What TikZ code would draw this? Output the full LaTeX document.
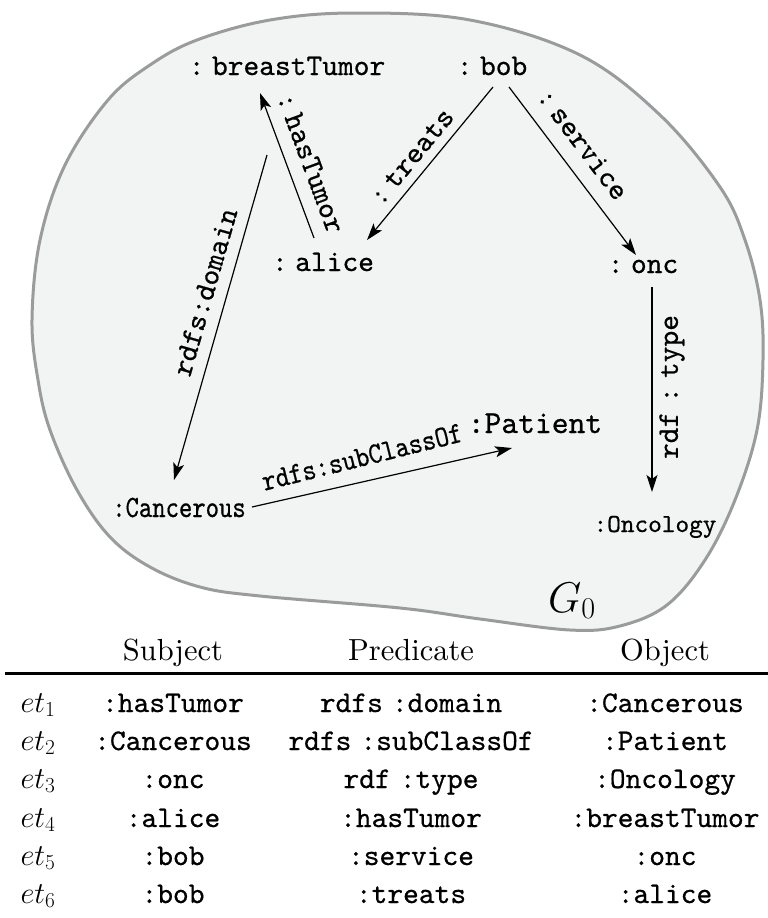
\RequirePackage{fix-cm}
\documentclass[tikz,border=0pt]{standalone}
\usepackage{graphicx}
\usetikzlibrary{arrows.meta}
\definecolor{blobfill}{HTML}{F2F3F3}
\definecolor{blobline}{HTML}{9A9B9D}
\newcommand{\myfs}[1]{\fontsize{#1}{#1}\selectfont}
\font\ttA="[lmmono10-regular]:embolden=0.6" at 30pt
\font\ttB="[lmmono10-regular]:embolden=0.6" at 31pt
\font\ttC="[lmmono10-regular]:embolden=0.6" at 26pt
\font\ttP="[lmmono10-regular]:embolden=0.6" at 32pt
\font\rmA="[lmroman10-regular]" at 30.5pt
\tikzset{
  nd/.style={inner sep=0pt, anchor=base, font=\ttA},
  lbl/.style={inner sep=0pt, font=\ttA},
  arr/.style={-{Stealth[length=17pt,width=11pt,inset=4pt]}, line width=1.2pt},
  hdr/.style={inner sep=0pt, anchor=base, font=\rmA},
  cell/.style={inner sep=0pt, anchor=base, font=\ttA},
  etc/.style={inner sep=0pt, anchor=base, font=\rmfamily\myfs{30.5}},
}
\begin{document}
\begin{tikzpicture}[x=1pt,y=1pt]
\useasboundingbox (0,0) rectangle (768,-918);
% blob
\draw[blobline, fill=blobfill, line width=3pt]
  plot[smooth cycle, tension=0.6] coordinates {
  (355,-13) (470,-20) (580,-55) (660,-115) (720,-187) (745,-240) (760,-300)
  (763,-360) (757,-430) (735,-500) (705,-560) (667,-605) (620,-626) (570,-630)
  (480,-619) (400,-608) (260,-596) (200,-587) (150,-567) (110,-537) (77,-490)
  (50,-430) (38,-380) (32,-320) (40,-240) (65,-165) (108,-100) (150,-65)
  (197,-40) (270,-20)};
% nodes
\node[nd] (bt) at (287,-75) {:\hspace{.25em}breastTumor};
\node[nd] (bob) at (492,-75) {:\hspace{.25em}bob};
\node[nd] (alice) at (323,-271) {:\hspace{.25em}alice};
\node[nd] (onc) at (643,-273) {:\hspace{.25em}onc};
\node[nd, font=\ttP] (pat) at (535,-433) {:Patient};
\node[nd, font=\ttB] (canc) at (179,-517) {\scalebox{0.82}[1]{:Cancerous}};
\node[nd, font=\ttC] (oncol) at (655,-532) {:Oncology};
\coordinate (dstart) at (267,-155);
% edges
\draw[arr] ([shift={(-9,33)}]alice.base) -- ([shift={(-27,-18)}]bt.base);
\draw[arr] ([shift={(1,-12)}]bob.base) -- ([shift={(44,31)}]alice.base);
\draw[arr] ([shift={(17,-12)}]bob.base) -- ([shift={(-7,18)}]onc.base);
\draw[arr] ([shift={(9,-14)}]onc.base) -- ([shift={(-3,40)}]oncol.base);
\draw[arr] (dstart) -- ([shift={(-5,37)}]canc.base);
\draw[arr] ([shift={(73,10)}]canc.base) -- ([shift={(-23,-15)}]pat.base);
% edge labels
\node[lbl, rotate=-69.6] (lhas) at (311,-163) {:\hspace{.2em}hasTumor};
\node[lbl, rotate=50.5] (ltreats) at (412,-157) {:\hspace{.2em}treats};
\node[lbl, rotate=-52.9] (lserv) at (583,-144) {:\hspace{.2em}service};
\node[lbl, rotate=90] (ltype) at (672,-387) {rdf\hspace{.3em}:\hspace{.3em}type};
\node[lbl, rotate=74] (ldom) at (205,-292) {rdfs:domain};
\node[lbl, rotate=14] (lsub) at (362,-457) {\scalebox{0.87}[1]{rdfs:subClassOf}};
\node[inner sep=0pt, anchor=base west, font=\myfs{43}] (g0) at (548,-612) {$G_0$};
% table
\node[hdr] (hs) at (173,-660) {Subject};
\node[hdr] (hp) at (411,-660) {Predicate};
\node[hdr] (ho) at (665,-660) {Object};
\draw[line width=3pt] (5,-673) -- (768,-673);
\node[etc] (e1) at (38,-712) {$et_1$};
\node[etc] (e2) at (38,-750) {$et_2$};
\node[etc] (e3) at (38,-788) {$et_3$};
\node[etc] (e4) at (38,-827) {$et_4$};
\node[etc] (e5) at (38,-865) {$et_5$};
\node[etc] (e6) at (38,-903) {$et_6$};
\node[cell] (s1) at (173,-712) {:hasTumor};
\node[cell] (s2) at (173,-750) {:Cancerous};
\node[cell] (s3) at (173,-788) {:onc};
\node[cell] (s4) at (173,-827) {:alice};
\node[cell] (s5) at (173,-865) {:bob};
\node[cell] (s6) at (173,-903) {:bob};
\node[cell] (p1) at (411,-712) {rdfs\hspace{.3em}:domain};
\node[cell] (p2) at (411,-750) {rdfs\hspace{.3em}:subClassOf};
\node[cell] (p3) at (411,-788) {rdf\hspace{.3em}:type};
\node[cell] (p4) at (411,-827) {:hasTumor};
\node[cell] (p5) at (411,-865) {:service};
\node[cell] (p6) at (411,-903) {:treats};
\node[cell] (o1) at (665,-712) {:Cancerous};
\node[cell] (o2) at (665,-750) {:Patient};
\node[cell] (o3) at (665,-788) {:Oncology};
\node[cell] (o4) at (665,-827) {:breastTumor};
\node[cell] (o5) at (665,-865) {:onc};
\node[cell] (o6) at (665,-903) {:alice};
\end{tikzpicture}
\end{document}
